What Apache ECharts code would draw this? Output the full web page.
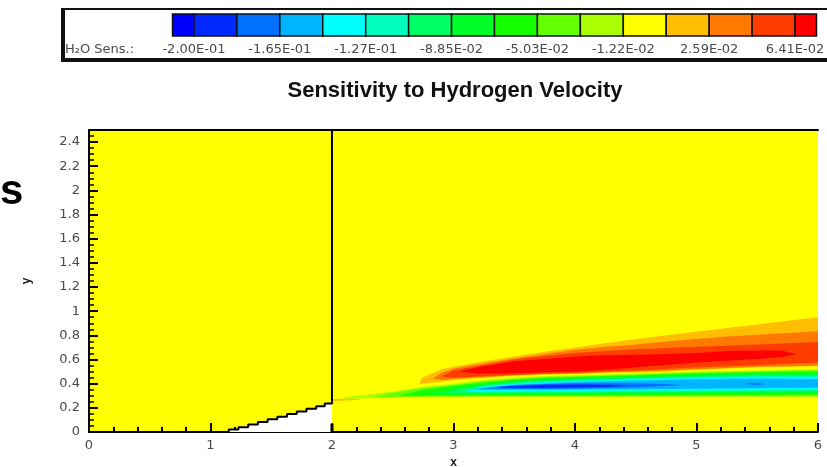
<!DOCTYPE html>
<html><head><meta charset="utf-8">
<script src="https://cdn.jsdelivr.net/npm/echarts@6/dist/echarts.min.js"></script>
<style>html,body{margin:0;padding:0;background:#fff}#c{width:827px;height:467px}</style>
</head><body><div id="c"></div>
<script>
// ---- legend (contour levels) ----
const legendColors = ['#0000FF','#0028FF','#0070FF','#00B4FF','#00FFFF','#00FFBE','#00FF64','#00FF28',
                      '#14FF00','#64FF00','#AAFF00','#FFFF00','#FFBE00','#FF7800','#FF3C00','#FF0000'];
const legendLabels = ['-2.00E-01','-1.65E-01','-1.27E-01','-8.85E-02','-5.03E-02','-1.22E-02','2.59E-02','6.41E-02'];
const legendLabelLevels = [1,3,5,7,9,11,13,15];
const backgroundLevel = 11;

// ---- axes ----
const xRange = [0, 6];
const yRange = [0, 2.5];

// ---- geometry ----
const wedgeStairs = [[1.07,0],[1.15,0.02],[1.23,0.04],[1.31,0.062],[1.39,0.083],[1.47,0.105],[1.55,0.126],
  [1.63,0.148],[1.71,0.17],[1.79,0.192],[1.87,0.213],[1.94,0.235],[2.0,0.25]];
const wallLine = [[2,0.25],[2,2.5]];
const wallFoot = [[2,0],[2,0.07]];

// ---- contour bands: [x, yLow, yHigh] ----
const band12sliver = [[2.0,0.255,0.272],[2.15,0.262,0.28],[2.25,0.27,0.27]];
const band12 = [[2.72,0.40,0.40],[2.74,0.40,0.45],[2.9,0.415,0.52],[3.0,0.43,0.54],[3.25,0.45,0.585],[3.5,0.465,0.625],
  [3.75,0.477,0.665],[4.0,0.48,0.70],[4.25,0.49,0.735],[4.5,0.495,0.77],[4.75,0.50,0.80],[5.0,0.515,0.83],
  [5.25,0.525,0.86],[5.5,0.535,0.89],[5.75,0.54,0.92],[6.0,0.545,0.95]];
const band13 = [[2.83,0.44,0.44],[2.9,0.43,0.49],[3.0,0.44,0.525],[3.25,0.455,0.57],[3.5,0.47,0.61],[3.75,0.48,0.645],
  [4.0,0.485,0.68],[4.25,0.495,0.705],[4.5,0.50,0.725],[4.75,0.51,0.75],[5.0,0.52,0.77],[5.25,0.53,0.79],
  [5.5,0.54,0.805],[5.75,0.545,0.82],[6.0,0.55,0.835]];
const band14 = [[2.9,0.46,0.46],[3.0,0.45,0.51],[3.25,0.462,0.555],[3.5,0.473,0.60],[3.75,0.483,0.63],[4.0,0.49,0.655],
  [4.25,0.50,0.67],[4.5,0.51,0.685],[4.75,0.522,0.695],[5.0,0.535,0.705],[5.25,0.545,0.715],[5.5,0.555,0.725],
  [5.75,0.565,0.735],[6.0,0.575,0.745]];
const band15 = [[3.05,0.50,0.50],[3.2,0.485,0.535],[3.5,0.487,0.585],[3.75,0.495,0.605],[4.0,0.50,0.625],[4.25,0.515,0.635],
  [4.5,0.535,0.64],[4.75,0.555,0.645],[5.0,0.575,0.655],[5.25,0.59,0.67],[5.5,0.605,0.675],[5.7,0.62,0.675],[5.82,0.645,0.645]];
const band10 = [[2.1,0.275,0.285],[2.3,0.28,0.31],[2.5,0.285,0.335],[2.75,0.288,0.375],[3.0,0.29,0.40],[3.25,0.29,0.43],
  [3.5,0.29,0.45],[3.75,0.29,0.463],[4.0,0.29,0.47],[4.5,0.29,0.485],[5.0,0.29,0.50],[5.5,0.29,0.51],[6.0,0.29,0.52]];
const band9 = [[2.35,0.29,0.29],[2.5,0.292,0.325],[2.75,0.295,0.365],[3.0,0.296,0.39],[3.25,0.297,0.42],[3.5,0.297,0.44],
  [3.75,0.297,0.455],[4.0,0.297,0.462],[4.5,0.298,0.477],[5.0,0.299,0.492],[5.5,0.30,0.502],[6.0,0.30,0.512]];
const band8 = [[2.55,0.30,0.30],[2.75,0.302,0.35],[3.0,0.303,0.38],[3.25,0.304,0.41],[3.5,0.305,0.432],[3.75,0.305,0.447],
  [4.0,0.305,0.455],[4.5,0.306,0.47],[5.0,0.308,0.485],[5.5,0.309,0.495],[6.0,0.31,0.502]];
const band7 = [[2.75,0.31,0.31],[3.0,0.31,0.365],[3.25,0.312,0.40],[3.5,0.313,0.424],[3.75,0.313,0.44],[4.0,0.313,0.447],
  [4.5,0.315,0.462],[5.0,0.318,0.476],[5.5,0.32,0.486],[6.0,0.322,0.488]];
const band6 = [[2.95,0.32,0.32],[3.0,0.32,0.35],[3.25,0.322,0.39],[3.5,0.323,0.415],[3.75,0.323,0.43],[4.0,0.323,0.438],
  [4.5,0.326,0.452],[5.0,0.33,0.465],[5.5,0.333,0.473],[6.0,0.336,0.474]];
const band5 = [[3.05,0.33,0.33],[3.25,0.33,0.38],[3.5,0.331,0.405],[3.75,0.331,0.42],[4.0,0.332,0.428],[4.5,0.335,0.442],
  [5.0,0.338,0.456],[5.5,0.342,0.463],[6.0,0.345,0.463]];
const band4 = [[3.1,0.34,0.34],[3.25,0.34,0.37],[3.5,0.34,0.397],[3.75,0.34,0.412],[4.0,0.342,0.42],[4.5,0.345,0.436],
  [5.0,0.348,0.448],[5.5,0.351,0.454],[6.0,0.354,0.452]];
const band3 = [[3.15,0.35,0.35],[3.25,0.348,0.362],[3.5,0.349,0.392],[3.75,0.35,0.404],[4.0,0.351,0.413],[4.5,0.354,0.427],
  [5.0,0.358,0.438],[5.5,0.362,0.442],[6.0,0.366,0.438]];
const band2 = [[3.2,0.36,0.36],[3.5,0.357,0.387],[3.75,0.357,0.397],[4.0,0.36,0.403],[4.25,0.364,0.405],[4.5,0.37,0.403],
  [4.75,0.38,0.397],[4.9,0.388,0.388]];
const band2dot = [[5.4,0.397,0.40],[5.5,0.39,0.405],[5.56,0.397,0.40]];
const band1 = [[3.3,0.37,0.37],[3.5,0.366,0.381],[3.75,0.365,0.391],[4.0,0.368,0.394],[4.25,0.374,0.391],[4.45,0.381,0.381]];

const bandList = [
  {level:12, pts:band12sliver},{level:12, pts:band12},{level:13, pts:band13},{level:14, pts:band14},{level:15, pts:band15},
  {level:10, pts:band10},{level:9, pts:band9},{level:8, pts:band8},{level:7, pts:band7},{level:6, pts:band6},
  {level:5, pts:band5},{level:4, pts:band4},{level:3, pts:band3},{level:2, pts:band2},{level:2, pts:band2dot},{level:1, pts:band1}
];

const labelColor = '#4a4a4a';
const tickFont = 'DejaVu Sans';

const chart = echarts.init(document.getElementById('c'), null, {renderer:'canvas'});
chart.setOption({
  animation:false,
  backgroundColor:'#fff',
  grid:[
    {left:89, top:130, width:729, height:302, show:true, backgroundColor:legendColors[backgroundLevel], borderWidth:0, containLabel:false, outerBoundsMode:'none'},
    {left:172.5, top:14, width:644, height:22, show:false, containLabel:false, outerBoundsMode:'none'}
  ],
  xAxis:[
    {gridIndex:0, type:'value', min:xRange[0], max:xRange[1], interval:1, position:'bottom',
     name:'x', nameLocation:'middle', nameGap:22, nameTextStyle:{fontFamily:'Liberation Sans', fontWeight:'bold', fontSize:12, color:'#222'},
     axisLine:{show:true, lineStyle:{color:'#000', width:2}},
     axisTick:{show:true, inside:true, length:9, lineStyle:{color:'#000', width:2}},
     minorTick:{show:true, splitNumber:5, length:5, lineStyle:{color:'#000', width:2}},
     axisLabel:{color:labelColor, fontFamily:tickFont, fontSize:13, margin:7},
     splitLine:{show:false}},
    {gridIndex:0, type:'value', min:xRange[0], max:xRange[1], position:'top',
     axisLine:{show:true, lineStyle:{color:'#000', width:2}}, axisTick:{show:false}, axisLabel:{show:false}, splitLine:{show:false}},
    {gridIndex:1, type:'value', min:0.5, max:15.5, show:false}
  ],
  yAxis:[
    {gridIndex:0, type:'value', min:yRange[0], max:yRange[1], interval:0.2,
     name:'y', nameLocation:'middle', nameGap:56, nameRotate:90,
     nameTextStyle:{fontFamily:'Liberation Sans', fontWeight:'bold', fontSize:12, color:'#222'},
     axisLine:{show:true, lineStyle:{color:'#000', width:2}},
     axisTick:{show:true, inside:true, length:9, lineStyle:{color:'#000', width:2}},
     minorTick:{show:true, splitNumber:4, length:5, lineStyle:{color:'#000', width:1.5}},
     axisLabel:{color:labelColor, fontFamily:tickFont, fontSize:13, margin:9, showMaxLabel:false},
     splitLine:{show:false}},
    {gridIndex:1, type:'value', min:0, max:1, show:false}
  ],
  graphic:[
    {type:'rect', shape:{x:62, y:9, width:780, height:51}, style:{fill:'#fff', stroke:'#111', lineWidth:2}, z:0},
    {type:'line', shape:{x1:63, y1:9, x2:63, y2:62}, style:{stroke:'#111', lineWidth:4}, z:1},
    {type:'line', shape:{x1:62, y1:60, x2:840, y2:60}, style:{stroke:'#111', lineWidth:4}, z:1},
    {type:'text', x:65, y:50, style:{text:'H\u2082O Sens.:', font:'13px "DejaVu Sans"', fill:labelColor, verticalAlign:'middle'}, z:5},
    {type:'text', x:455, y:91, style:{text:'Sensitivity to Hydrogen Velocity', font:'bold 22px "Liberation Sans"', fill:'#111', align:'center', verticalAlign:'middle'}},
    {type:'text', x:0, y:192, style:{text:'s', font:'bold 42px "Liberation Sans"', fill:'#000', verticalAlign:'middle'}}
  ],
  series:[
    {type:'custom', xAxisIndex:0, yAxisIndex:0, clip:true, z:2,
     data: bandList.map((b,i)=>[b.pts[0][0], b.pts[0][1], i]),
     renderItem:function(params, api){
       const b = bandList[params.dataIndex];
       const top = b.pts.map(p=>api.coord([p[0], p[2]]));
       const bot = b.pts.slice().reverse().map(p=>api.coord([p[0], p[1]]));
       return {type:'polygon', shape:{points:top.concat(bot)}, style:{fill:legendColors[b.level]}};
     }},
    {type:'line', xAxisIndex:0, yAxisIndex:0, data:wedgeStairs, step:'end', symbol:'none', z:4,
     lineStyle:{color:'#000', width:2}, areaStyle:{color:'#fff', opacity:1}},
    {type:'line', xAxisIndex:0, yAxisIndex:0, data:wallLine, symbol:'none', z:4, lineStyle:{color:'#000', width:2}},
    {type:'line', xAxisIndex:0, yAxisIndex:0, data:wallFoot, symbol:'none', z:4, lineStyle:{color:'#000', width:3}},
    {type:'custom', xAxisIndex:2, yAxisIndex:1, z:5,
     data: legendColors.map((c,i)=>[i, 0]),
     renderItem:function(params, api){
       const i = params.dataIndex;
       const p0 = api.coord([Math.max(i, 0.5), 1]);
       const p1 = api.coord([Math.min(i+1, 15.5), 0]);
       return {type:'rect', shape:{x:p0[0], y:p0[1], width:p1[0]-p0[0], height:p1[1]-p0[1]},
               style:{fill:legendColors[i], stroke:'#111', lineWidth:1.5}};
     }},
    {type:'custom', xAxisIndex:2, yAxisIndex:1, z:5,
     data: legendLabelLevels.map((lv,i)=>[lv, 0, i]),
     renderItem:function(params, api){
       const i = params.dataIndex;
       const p = api.coord([legendLabelLevels[i], 0]);
       return {type:'text', x:p[0], y:p[1]+14,
               style:{text:legendLabels[i], font:'13px "DejaVu Sans"', fill:labelColor, align:'center', verticalAlign:'middle'}};
     }}
  ]
});
</script></body></html>
